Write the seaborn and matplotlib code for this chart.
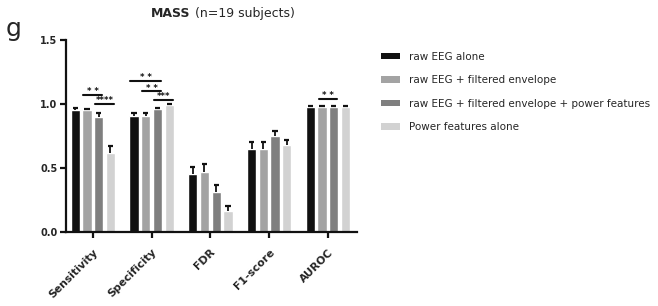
import numpy as np
import pandas as pd
import matplotlib
matplotlib.use("Agg")
import matplotlib.pyplot as plt
import seaborn as sns
from matplotlib.patches import Patch

categories = ["Sensitivity", "Specificity", "FDR", "F1-score", "AUROC"]
methods = ["raw EEG alone", "raw EEG + filtered envelope",
           "raw EEG + filtered envelope + power features", "Power features alone"]
raw_eeg = [0.95, 0.91, 0.45, 0.65, 0.98]
raw_env = [0.95, 0.91, 0.47, 0.65, 0.98]
raw_env_pow = [0.90, 0.96, 0.31, 0.75, 0.98]
power_only = [0.62, 0.99, 0.16, 0.68, 0.98]
err_raw_eeg = [0.02, 0.02, 0.06, 0.05, 0.005]
err_raw_env = [0.01, 0.02, 0.06, 0.05, 0.005]
err_raw_env_pow = [0.03, 0.01, 0.06, 0.04, 0.005]
err_power_only = [0.05, 0.01, 0.04, 0.04, 0.005]
colors = ["#111111", "#a3a3a3", "#7f7f7f", "#d2d2d2"]
# significance: (category index, method i, method j, y, label)
sig_cat = [0, 0, 1, 1, 1, 4]
sig_i = [1, 2, 0, 1, 2, 1]
sig_j = [2, 3, 2, 2, 3, 2]
sig_y = [1.07, 1.0, 1.18, 1.10, 1.03, 1.04]
sig_lab = ["* *", "****", "* *", "* *", "***", "* *"]

series = [raw_eeg, raw_env, raw_env_pow, power_only]
errs = [err_raw_eeg, err_raw_env, err_raw_env_pow, err_power_only]
rows = []
for m, vals, ers in zip(methods, series, errs):
    for c, v, e in zip(categories, vals, ers):
        rows.append({"metric": c, "method": m, "value": v, "err": e})
df = pd.DataFrame(rows)

sns.set_style("white")
fig = plt.figure(figsize=(6.58, 3.06), dpi=100)
ax = fig.add_axes([0.100, 0.242, 0.443, 0.627])
sns.barplot(data=df, x="metric", y="value", hue="method", order=categories,
            hue_order=methods, palette=colors, errorbar=None, width=0.8,
            gap=0.2, saturation=1, ax=ax, legend=False)

slot = 0.8 / 4
for k in range(4):
    for ci in range(5):
        x = ci - 0.4 + slot * (k + 0.5)
        top = series[k][ci] + errs[k][ci]
        ax.plot([x, x], [series[k][ci], top], color="#111111", lw=1.3,
                solid_capstyle="butt")
        ax.plot([x - 0.045, x + 0.045], [top, top], color="#111111", lw=1.6,
                solid_capstyle="butt")

for c, i, j, y, lab in zip(sig_cat, sig_i, sig_j, sig_y, sig_lab):
    x1 = c - 0.4 + slot * (i + 0.5) - 0.06
    x2 = c - 0.4 + slot * (j + 0.5) + 0.06
    ax.plot([x1, x2], [y, y], color="#111111", lw=1.5)
    ax.text((x1 + x2) / 2, y - 0.01, lab, ha="center", va="bottom",
            fontsize=6, fontweight="bold", color="#111111")

ax.set_ylim(0, 1.5)
ax.set_xlim(-0.46, 4.5)
ax.set_yticks([0.0, 0.5, 1.0, 1.5])
ax.set_yticklabels(["0.0", "0.5", "1.0", "1.5"], fontsize=7, fontweight="bold")
ax.set_xticks(range(5))
ax.set_xticklabels(categories, rotation=45, ha="right", rotation_mode="anchor",
                   fontsize=7.8, fontweight="bold")
ax.set_xlabel("")
ax.set_ylabel("")
for s in ["top", "right"]:
    ax.spines[s].set_visible(False)
for s in ["left", "bottom"]:
    ax.spines[s].set_linewidth(1.6)
    ax.spines[s].set_color("#111111")
ax.tick_params(axis="both", direction="out", length=4, width=1.6, color="#111111",
               bottom=True, left=True, pad=2)
ax.tick_params(axis="x", pad=7)

fig.text(0.290, 0.955, "MASS", fontsize=9, fontweight="bold", ha="right", va="center")
fig.text(0.291, 0.955, " (n=19 subjects)", fontsize=9, ha="left", va="center")
fig.text(0.008, 0.905, "g", fontsize=18, ha="left", va="center")

handles = [Patch(facecolor=c, edgecolor="none") for c in colors]
fig.legend(handles, methods, loc="upper left", bbox_to_anchor=(0.565, 0.862),
           frameon=False, fontsize=7.5, handlelength=1.8, handleheight=0.55,
           labelspacing=1.3, handletextpad=0.9)

fig.savefig("out.png", dpi=100)
